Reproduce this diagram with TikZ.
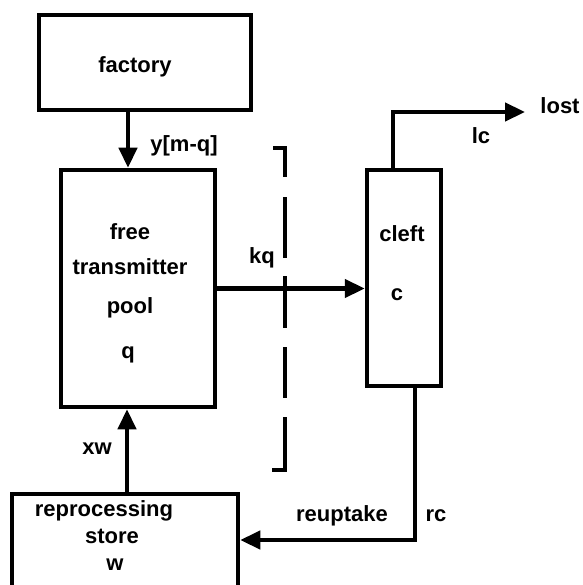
\documentclass[tikz,border=0pt]{standalone}
\usepackage{fontspec}
\setmainfont{Liberation Sans}
\usetikzlibrary{arrows.meta}
\begin{document}
\begin{tikzpicture}[x=1pt,y=-1pt,
  box/.style={draw, line width=4.5pt, inner sep=0pt},
  lbl/.style={inner sep=0pt, text height=11pt, text depth=0pt, font=\fontsize{22}{24}\selectfont\bfseries},
  flow/.style={line width=4.5pt, -{Triangle[length=20pt,width=18pt]}},
  brk/.style={line width=3.5pt}]
\useasboundingbox (0,0) rectangle (582,585);
\clip (0,0) rectangle (582,585);
% boxes
\node[box, minimum width=212pt, minimum height=95pt] (factory) at (145,62.5) {};
\node[box, minimum width=154pt, minimum height=237pt] (pool) at (138,288.5) {};
\node[box, minimum width=74pt, minimum height=216pt] (cleft) at (404,278) {};
\node[box, minimum width=226pt, minimum height=126pt] (reproc) at (125,557) {};
% texts
\node[lbl] (tfactory) at (135,67.5) {factory};
\node[lbl] (tfree) at (130,234) {free};
\node[lbl] (ttrans) at (130,269) {transmitter};
\node[lbl] (tpool) at (130,308) {pool};
\node[lbl] (tq) at (128,353) {q};
\node[lbl] (tcleft) at (402,236) {cleft};
\node[lbl] (tc) at (397,295) {c};
\node[lbl] (trep) at (104,511) {reprocessing};
\node[lbl] (tstore) at (112,538) {store};
\node[lbl] (tw) at (115,565) {w};
\node[lbl] (lym) at (184,146) {y[m-q]};
\node[lbl] (lkq) at (262,258) {kq};
\node[lbl] (llost) at (560,108) {lost};
\node[lbl] (llc) at (481,138) {lc};
\node[lbl] (lreup) at (342,516) {reuptake};
\node[lbl] (lrc) at (436,516) {rc};
\node[lbl] (lxw) at (97,449) {xw};
% connectors
\coordinate (pin) at ([xshift=-10pt]pool.north);
\draw[flow] (pin |- factory.south) -- (pin);
\draw[flow] (pool.east) -- (pool.east -| cleft.west);
\coordinate (ct) at ([xshift=-11pt]cleft.north);
\coordinate (lostend) at (525,112);
\draw[flow] (ct) |- (lostend);
\coordinate (cb) at ([xshift=11pt]cleft.south);
\coordinate (yr) at (0,540);
\draw[flow] (cb) |- (reproc.east |- yr);
\coordinate (pout) at ([xshift=-11pt]pool.south);
\draw[flow] (pout |- reproc.north) -- (pout);
% dashed bracket
\draw[brk] (273,148) -- (285,148) -- (285,177);
\draw[brk] (285,197) -- (285,258);
\draw[brk] (285,276) -- (285,328);
\draw[brk] (285,347) -- (285,398);
\draw[brk] (285,417) -- (285,470) -- (272,470);
\end{tikzpicture}
\end{document}
